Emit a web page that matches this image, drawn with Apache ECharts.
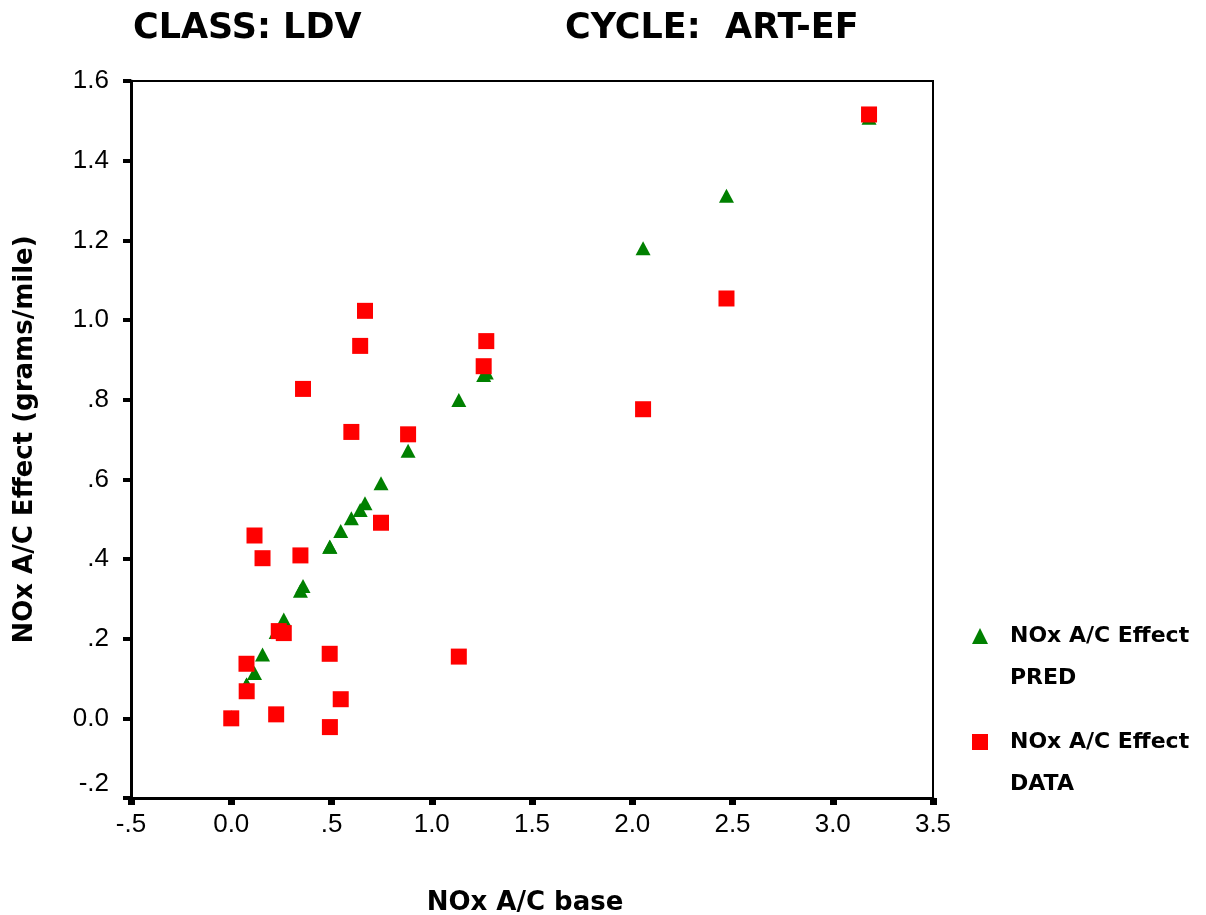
<!DOCTYPE html>
<html>
<head>
<meta charset="utf-8">
<title>NOx A/C Effect vs base</title>
<script src="https://cdn.jsdelivr.net/npm/echarts@6/dist/echarts.min.js"></script>
<style>
  html, body { margin: 0; padding: 0; background: #fff; }
  #chart { width: 1206px; height: 915px; }
</style>
</head>
<body>
<div id="chart"></div>
<script>
// NOx A/C base (g/mi) for each vehicle
const baseX = [0.000, 0.076, 0.077, 0.116, 0.156, 0.224, 0.237, 0.262, 0.345, 0.358,
               0.491, 0.492, 0.546, 0.599, 0.643, 0.667, 0.747, 0.882, 1.135, 1.259,
               1.272, 2.054, 2.470, 3.181];
// Measured NOx A/C effect
const dataY = [0.000, 0.137, 0.068, 0.459, 0.402, 0.010, 0.219, 0.214, 0.409, 0.827,
               0.162, -0.022, 0.048, 0.719, 0.935, 1.023, 0.491, 0.713, 0.155, 0.884,
               0.947, 0.776, 1.054, 1.516];
// Predicted NOx A/C effect
const predY = [0.003, 0.085, 0.085, 0.114, 0.160, 0.217, 0.222, 0.248, 0.320, 0.332,
               0.431, 0.431, 0.470, 0.502, 0.523, 0.540, 0.590, 0.672, 0.799, 0.862,
               0.868, 1.180, 1.312, 1.508];

const seriesNames = ['NOx A/C Effect PRED', 'NOx A/C Effect DATA'];
const titles = ['CLASS: LDV', 'CYCLE:  ART-EF'];
const xName = 'NOx A/C base';
const yName = 'NOx A/C Effect (grams/mile)';

const pairs = (xs, ys) => xs.map((x, i) => [x, ys[i]]);

// SPSS-style tick text: drop the leading zero except for 0.0
function tickText(v) {
  if (Math.abs(v) < 1e-9) return '0.0';
  return v.toFixed(1).replace(/^(-?)0\./, '$1.');
}

const boldFont = 'DejaVu Sans';
const tickFont = 'Liberation Sans';

const legendCommon = {
  orient: 'vertical',
  left: 972,
  padding: 0,
  itemWidth: 16,
  itemHeight: 16,
  formatter: n => '\n' + n.replace(/ (PRED|DATA)$/, '\n$1'),
  textStyle: {
    fontFamily: boldFont, fontWeight: 'bold', fontSize: 22,
    color: '#000', lineHeight: 42, padding: [10, 0, 0, 17]
  }
};

const titleStyle = { fontFamily: boldFont, fontWeight: 'bold', fontSize: 35, color: '#000' };

const chart = echarts.init(document.getElementById('chart'), null, { renderer: 'canvas' });
chart.setOption({
  backgroundColor: '#fff',
  animation: false,
  title: [
    { text: titles[0], left: 128, top: 6, textStyle: titleStyle },
    { text: titles[1], left: 560, top: 6, textStyle: titleStyle }
  ],
  legend: [
    Object.assign({ data: [{ name: seriesNames[0], icon: 'triangle' }], top: 568 }, legendCommon),
    Object.assign({ data: [{ name: seriesNames[1], icon: 'rect' }], top: 674 }, legendCommon)
  ],
  grid: {
    left: 131, right: 273, top: 81, bottom: 117,
    outerBoundsMode: 'none',
    show: true, borderColor: '#000', borderWidth: 2, backgroundColor: 'transparent'
  },
  xAxis: {
    type: 'value', min: -0.5, max: 3.5, interval: 0.5,
    name: xName, nameLocation: 'middle', nameGap: 92,
    nameTextStyle: { fontFamily: boldFont, fontWeight: 'bold', fontSize: 26, color: '#000',
                     padding: [0, 14, 0, 0] },
    axisLine: { show: true, onZero: false, lineStyle: { color: '#000', width: 3 } },
    axisTick: { show: true, length: 7, lineStyle: { color: '#000', width: 7 } },
    axisLabel: { margin: 14, formatter: tickText,
      fontFamily: tickFont, fontSize: 26, color: '#000' },
    splitLine: { show: false }
  },
  yAxis: {
    type: 'value', min: -0.2, max: 1.6, interval: 0.2,
    name: yName, nameLocation: 'middle', nameGap: 93, nameRotate: 90,
    nameTextStyle: { fontFamily: boldFont, fontWeight: 'bold', fontSize: 26, color: '#000' },
    axisLine: { show: true, onZero: false, lineStyle: { color: '#000', width: 3 } },
    axisTick: { show: true, length: 8, lineStyle: { color: '#000', width: 4 } },
    axisLabel: {
      margin: 22,
      // the lowest label sits just above the bottom edge
      formatter: v => (v < -0.1 ? '{lo|' + tickText(v) + '}' : tickText(v)),
      fontFamily: tickFont, fontSize: 26, color: '#000',
      rich: { lo: { fontFamily: tickFont, fontSize: 26, color: '#000', padding: [0, 0, 28, 0] } }
    },
    splitLine: { show: false }
  },
  series: [
    {
      name: seriesNames[0], type: 'scatter', symbol: 'triangle', symbolSize: [15, 14],
      itemStyle: { color: '#008000', opacity: 1 },
      data: pairs(baseX, predY), z: 2
    },
    {
      name: seriesNames[1], type: 'scatter', symbol: 'rect', symbolSize: 16,
      itemStyle: { color: '#ff0000', opacity: 1 },
      data: pairs(baseX, dataY), z: 3
    }
  ]
});
</script>
</body>
</html>
